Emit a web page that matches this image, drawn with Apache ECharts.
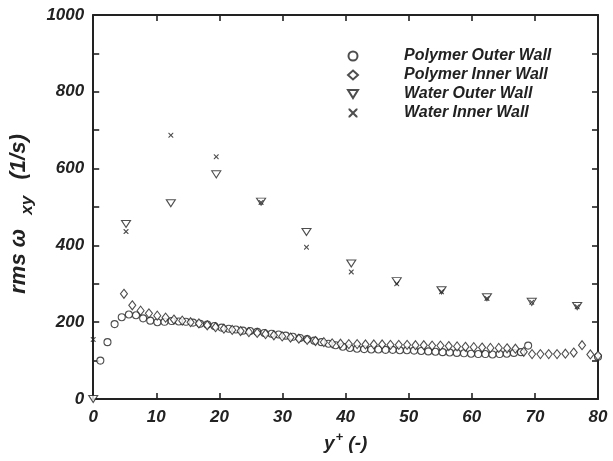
<!DOCTYPE html>
<html>
<head>
<meta charset="utf-8">
<script src="https://cdn.jsdelivr.net/npm/echarts@6/dist/echarts.min.js"></script>
<style>
  html, body { margin: 0; padding: 0; background: #fff; }
  #chart { width: 613px; height: 461px; }
</style>
</head>
<body>
<div id="chart"></div>
<script>
// Wall-normal distance y+ and rms vorticity (1/s) for each case
const polyOuterX = [1.13, 2.26, 3.39, 4.52, 5.65, 6.78, 7.91, 9.04, 10.17, 11.3, 12.43, 13.56, 14.69, 15.82, 16.95, 18.08, 19.21, 20.34, 21.47, 22.6, 23.73, 24.86, 25.99, 27.12, 28.25, 29.38, 30.51, 31.64, 32.77, 33.9, 35.03, 36.16, 37.29, 38.42, 39.55, 40.68, 41.81, 42.94, 44.07, 45.2, 46.33, 47.46, 48.59, 49.72, 50.85, 51.98, 53.11, 54.24, 55.37, 56.5, 57.63, 58.76, 59.89, 61.02, 62.15, 63.28, 64.41, 65.54, 66.67, 67.8, 68.93, 80.0];
const polyOuterY = [100, 148, 195, 213, 220, 218, 210, 204, 200, 201, 203, 202, 201, 199, 196, 194, 190, 186, 183, 181, 178, 177, 175, 172, 170, 168, 165, 162, 159, 156, 152, 148, 144, 140, 136, 133, 131, 130, 129, 129, 128, 128, 127, 127, 126, 125, 124, 123, 122, 121, 120, 119, 118, 117, 117, 116, 117, 118, 120, 122, 139, 110];

const polyInnerX = [4.87, 6.19, 7.51, 8.83, 10.15, 11.47, 12.79, 14.11, 15.43, 16.75, 18.07, 19.39, 20.71, 22.03, 23.35, 24.67, 25.99, 27.31, 28.63, 29.95, 31.27, 32.59, 33.91, 35.23, 36.55, 37.87, 39.19, 40.51, 41.83, 43.15, 44.47, 45.79, 47.11, 48.43, 49.75, 51.07, 52.39, 53.71, 55.03, 56.35, 57.67, 58.99, 60.31, 61.63, 62.95, 64.27, 65.59, 66.91, 68.23, 69.55, 70.87, 72.19, 73.51, 74.83, 76.15, 77.47, 78.79, 80.0];
const polyInnerY = [274, 244, 230, 223, 217, 212, 207, 204, 200, 197, 192, 187, 183, 180, 177, 174, 172, 169, 166, 163, 160, 157, 154, 151, 148, 145, 144, 143, 143, 142, 142, 142, 141, 141, 141, 140, 140, 139, 139, 138, 137, 136, 135, 134, 133, 133, 132, 131, 123, 117, 117, 117, 117, 118, 121, 140, 116, 113];

const waterX = [0, 5.2, 12.3, 19.5, 26.6, 33.8, 40.9, 48.1, 55.2, 62.4, 69.5, 76.7];
const waterOuterY = [0, 456, 510, 585, 514, 435, 353, 307, 283, 265, 253, 242];
const waterInnerY = [155, 436, 687, 631, 512, 395, 331, 300, 279, 262, 252, 240];

const xTicks = { min: 0, max: 80, interval: 10 };
const yTicks = { min: 0, max: 1000, interval: 200 };

const seriesNames = ['Polymer Outer Wall', 'Polymer Inner Wall', 'Water Outer Wall', 'Water Inner Wall'];

const pairs = (xs, ys) => xs.map((x, i) => [x, ys[i]]);

const FONT = "'Liberation Sans', Arial, sans-serif";
const INK = '#222';
const crossPath = 'path://M0,0 L1.6,0 L5,3.4 L8.4,0 L10,0 L10,1.6 L6.6,5 L10,8.4 L10,10 L8.4,10 L5,6.6 L1.6,10 L0,10 L0,8.4 L3.4,5 L0,1.6 Z';
const downTriangle = 'path://M0,0 L10,0 L5,8 Z';

const axisLine = { show: true, onZero: false, lineStyle: { color: INK, width: 2 } };
const tickStyle = { color: INK, width: 1.6 };
const tickLabel = {
  color: INK, fontFamily: FONT, fontSize: 17, fontWeight: 'bold', fontStyle: 'italic',
  formatter: v => String(v)
};

const hollow = { color: '#fff', borderColor: INK, borderWidth: 1.1 };

const chart = echarts.init(document.getElementById('chart'), null, { renderer: 'canvas' });
chart.setOption({
  backgroundColor: '#fff',
  animation: false,
  grid: { left: 93, right: 15, top: 15, bottom: 62 },
  legend: {
    orient: 'vertical',
    left: 342,
    top: 43,
    itemWidth: 10,
    itemHeight: 9,
    itemGap: 3,
    data: [
      { name: seriesNames[0] },
      { name: seriesNames[1] },
      { name: seriesNames[2], icon: downTriangle },
      { name: seriesNames[3] }
    ],
    textStyle: {
      color: INK, fontFamily: FONT, fontSize: 16, fontWeight: 'bold', fontStyle: 'italic',
      padding: [0, 0, 0, 41]
    }
  },
  xAxis: [{
    type: 'value', min: xTicks.min, max: xTicks.max, interval: xTicks.interval,
    name: '{t|y}{p|+}{t| (-)}',
    nameLocation: 'middle', nameGap: 30,
    nameTextStyle: {
      rich: {
        t: { fontFamily: FONT, fontSize: 19, fontWeight: 'bold', fontStyle: 'italic', color: INK },
        p: { fontFamily: FONT, fontSize: 13, fontWeight: 'bold', fontStyle: 'italic', color: INK, padding: [0, 0, 12, 1] }
      }
    },
    axisLine: axisLine,
    axisTick: { show: true, inside: true, length: 6, lineStyle: tickStyle },
    axisLabel: Object.assign({ margin: 10 }, tickLabel),
    splitLine: { show: false }
  }, {
    type: 'value', position: 'top', min: xTicks.min, max: xTicks.max, interval: xTicks.interval,
    axisLine: axisLine,
    axisTick: { show: true, inside: true, length: 6, lineStyle: tickStyle },
    axisLabel: { show: false },
    splitLine: { show: false }
  }],
  yAxis: [{
    type: 'value', min: yTicks.min, max: yTicks.max, interval: yTicks.interval,
    name: '{t|rms ω  }{s|xy}{t|  (1/s)}{e|}',
    nameLocation: 'middle', nameGap: 46, nameRotate: 90,
    nameTextStyle: {
      rich: {
        t: { fontFamily: FONT, fontSize: 22, fontWeight: 'bold', fontStyle: 'italic', color: INK },
        s: { fontFamily: FONT, fontSize: 17, fontWeight: 'bold', fontStyle: 'italic', color: INK, padding: [16, 4, 0, 2] },
        e: { width: 14 }
      }
    },
    axisLine: axisLine,
    axisTick: { show: true, inside: true, length: 6, lineStyle: tickStyle },
    minorTick: { show: true, splitNumber: 2, length: 6, lineStyle: tickStyle },
    axisLabel: Object.assign({ margin: 9 }, tickLabel),
    splitLine: { show: false }
  }, {
    type: 'value', position: 'right', min: yTicks.min, max: yTicks.max, interval: yTicks.interval,
    axisLine: axisLine,
    axisTick: { show: true, inside: true, length: 6, lineStyle: tickStyle },
    minorTick: { show: true, splitNumber: 2, length: 6, lineStyle: tickStyle },
    axisLabel: { show: false },
    splitLine: { show: false }
  }],
  series: [{
    name: seriesNames[0], type: 'scatter', clip: false,
    symbol: 'circle', symbolSize: 7,
    itemStyle: hollow,
    data: pairs(polyOuterX, polyOuterY)
  }, {
    name: seriesNames[1], type: 'scatter', clip: false,
    symbol: 'diamond', symbolSize: [7, 9],
    itemStyle: hollow,
    data: pairs(polyInnerX, polyInnerY)
  }, {
    name: seriesNames[2], type: 'scatter', clip: false,
    symbol: 'triangle', symbolRotate: 180, symbolSize: [9, 7],
    itemStyle: hollow,
    data: pairs(waterX, waterOuterY)
  }, {
    name: seriesNames[3], type: 'scatter', clip: false,
    symbol: crossPath, symbolSize: 5,
    itemStyle: { color: INK },
    data: pairs(waterX, waterInnerY)
  }]
});
</script>
</body>
</html>
